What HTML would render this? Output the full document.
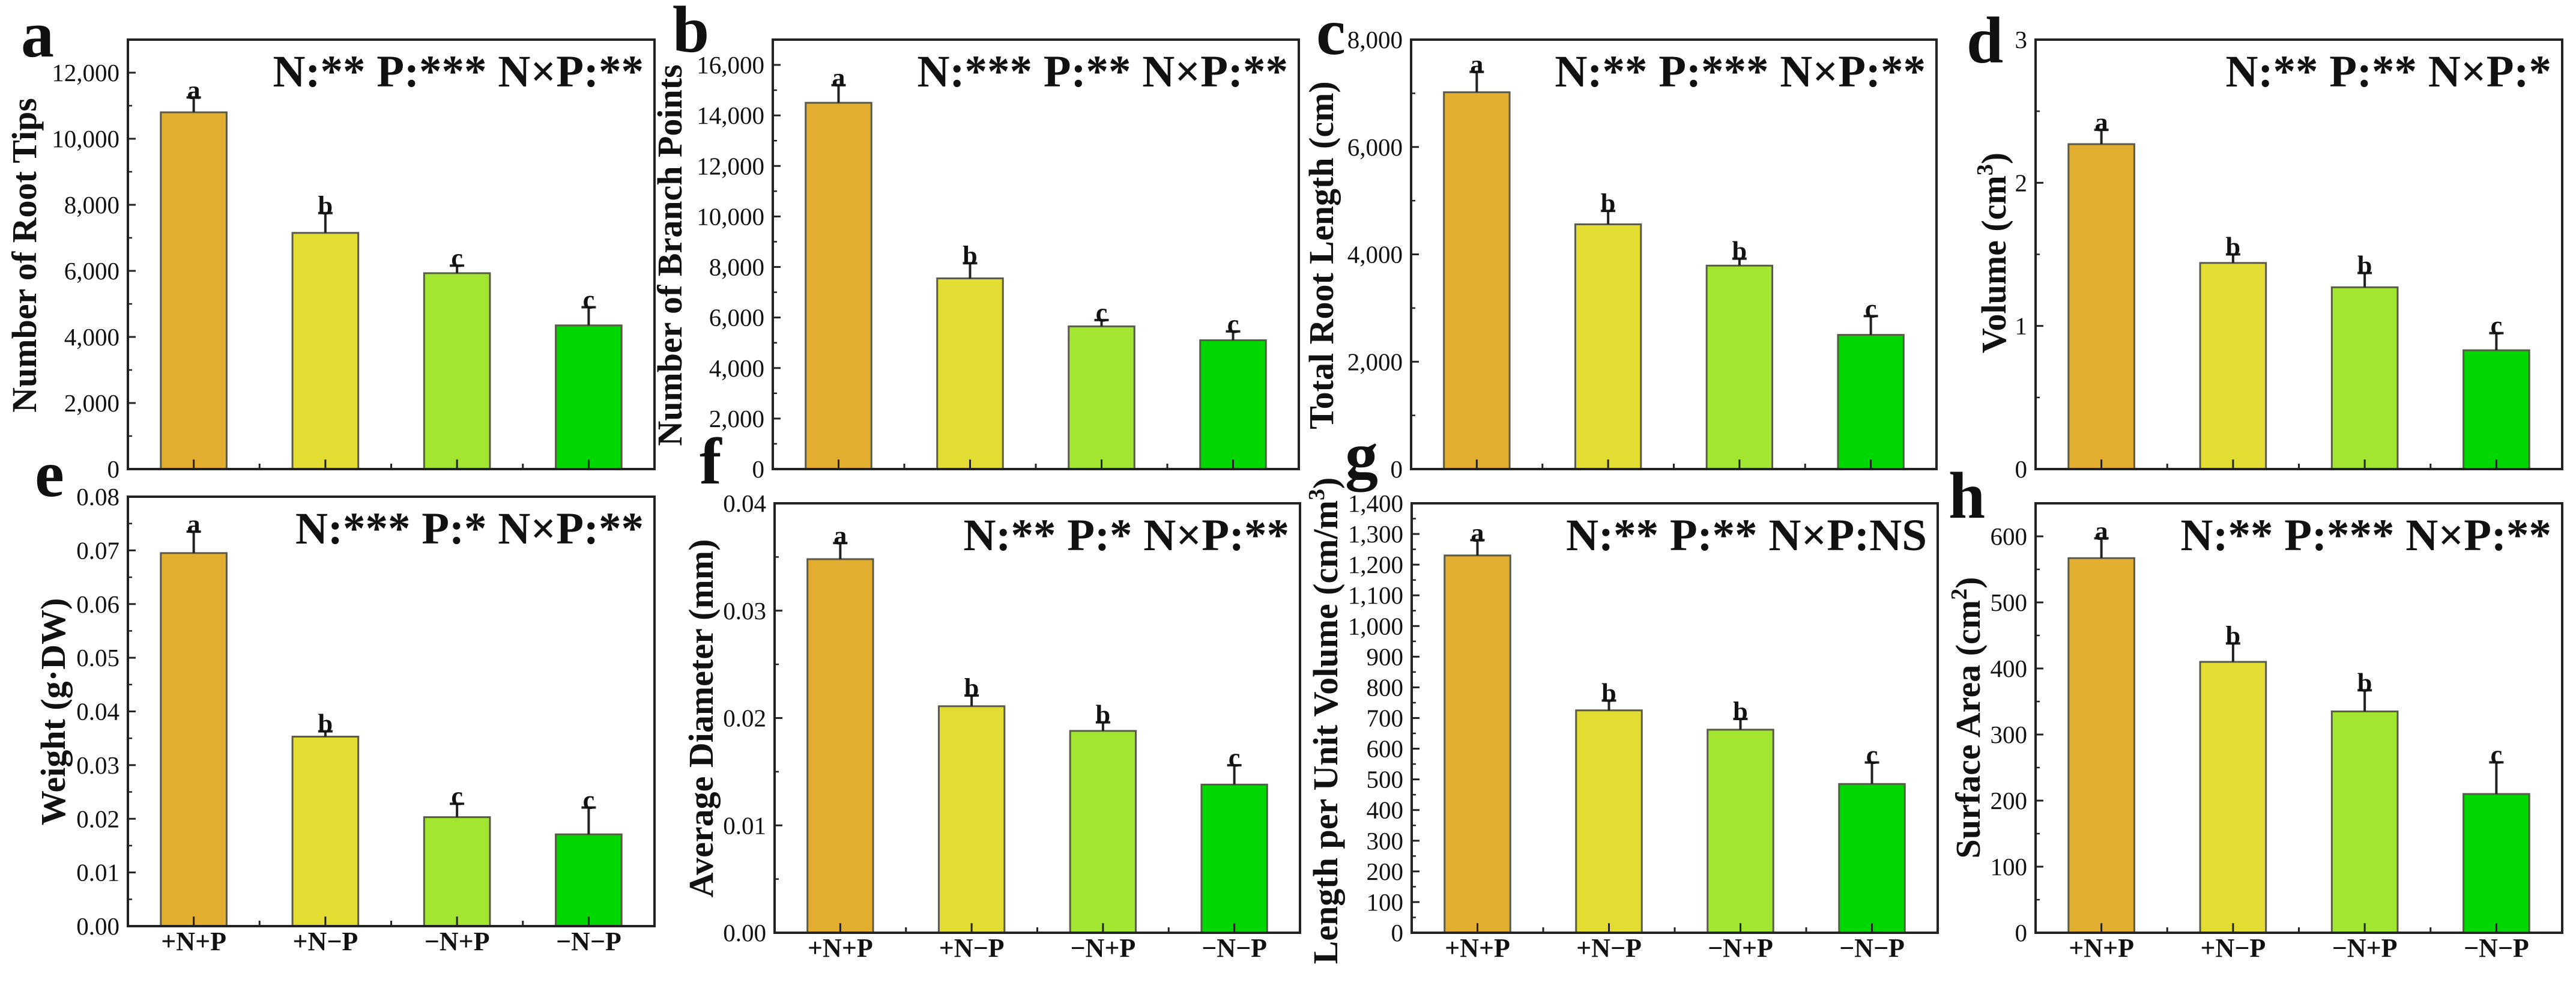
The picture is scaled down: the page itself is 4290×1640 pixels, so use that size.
<!DOCTYPE html>
<html><head><meta charset="utf-8"><style>
html,body{margin:0;padding:0;background:#fff;width:4290px;height:1640px;overflow:hidden}
svg{display:block}
text{font-family:"Liberation Serif","Times New Roman",serif;fill:#111}
</style></head><body>
<svg id="fig" width="4290" height="1640" viewBox="0 0 4290 1640" xmlns="http://www.w3.org/2000/svg"></svg>
<script>
const categories = ["+N+P", "+N\u2212P", "\u2212N+P", "\u2212N\u2212P"];
const barColors = ["#E3AE2F", "#E3DC33", "#A2E631", "#00D600"];

const aMeans = [10800, 7150, 5930, 4350];
const aErrs = [450, 600, 230, 550];
const aLetters = ["a", "b", "c", "c"];
const aTicks = [0, 2000, 4000, 6000, 8000, 10000, 12000];
const aTickLabels = ["0", "2,000", "4,000", "6,000", "8,000", "10,000", "12,000"];

const bMeans = [14500, 7550, 5650, 5100];
const bErrs = [700, 600, 250, 350];
const bLetters = ["a", "b", "c", "c"];
const bTicks = [0, 2000, 4000, 6000, 8000, 10000, 12000, 14000, 16000];
const bTickLabels = ["0", "2,000", "4,000", "6,000", "8,000", "10,000", "12,000", "14,000", "16,000"];

const cMeans = [7020, 4560, 3790, 2500];
const cErrs = [380, 250, 130, 350];
const cLetters = ["a", "b", "b", "c"];
const cTicks = [0, 2000, 4000, 6000, 8000];
const cTickLabels = ["0", "2,000", "4,000", "6,000", "8,000"];

const dMeans = [2.27, 1.44, 1.27, 0.83];
const dErrs = [0.1, 0.06, 0.1, 0.12];
const dLetters = ["a", "b", "b", "c"];
const dTicks = [0, 1, 2, 3];
const dTickLabels = ["0", "1", "2", "3"];

const eMeans = [0.0695, 0.0353, 0.0203, 0.0171];
const eErrs = [0.004, 0.001, 0.0025, 0.005];
const eLetters = ["a", "b", "c", "c"];
const eTicks = [0, 0.01, 0.02, 0.03, 0.04, 0.05, 0.06, 0.07, 0.08];
const eTickLabels = ["0.00", "0.01", "0.02", "0.03", "0.04", "0.05", "0.06", "0.07", "0.08"];

const fMeans = [0.0348, 0.0211, 0.0188, 0.0138];
const fErrs = [0.0015, 0.001, 0.0008, 0.0018];
const fLetters = ["a", "b", "b", "c"];
const fTicks = [0, 0.01, 0.02, 0.03, 0.04];
const fTickLabels = ["0.00", "0.01", "0.02", "0.03", "0.04"];

const gMeans = [1230, 725, 662, 485];
const gErrs = [50, 32, 35, 70];
const gLetters = ["a", "b", "b", "c"];
const gTicks = [0, 100, 200, 300, 400, 500, 600, 700, 800, 900, 1000, 1100, 1200, 1300, 1400];
const gTickLabels = ["0", "100", "200", "300", "400", "500", "600", "700", "800", "900", "1,000", "1,100", "1,200", "1,300", "1,400"];

const hMeans = [567, 410, 335, 210];
const hErrs = [30, 28, 32, 48];
const hLetters = ["a", "b", "b", "c"];
const hTicks = [0, 100, 200, 300, 400, 500, 600];
const hTickLabels = ["0", "100", "200", "300", "400", "500", "600"];

const NS = "http://www.w3.org/2000/svg";
const svg = document.getElementById("fig");
function mk(tag, attrs, parent) {
  const e = document.createElementNS(NS, tag);
  for (const k in attrs) e.setAttribute(k, attrs[k]);
  (parent || svg).appendChild(e);
  return e;
}

const panels = [
  {id:"a", means:aMeans, errs:aErrs, letters:aLetters, ticks:aTicks, labels:aTickLabels, max:13000, minor:1000,
   x0:213, x1:1090, y0:66, y1:781, title:"Number of Root Tips", tx:40, ty:425, stats:"N:** P:*** N\u00d7P:**", px:35, py:94, xl:false},
  {id:"b", means:bMeans, errs:bErrs, letters:bLetters, ticks:bTicks, labels:bTickLabels, max:17000, minor:1000,
   x0:1287, x1:2163, y0:66, y1:781, title:"Number of Branch Points", tx:1115, ty:425, stats:"N:*** P:** N\u00d7P:**", px:1120, py:86, xl:false},
  {id:"c", means:cMeans, errs:cErrs, letters:cLetters, ticks:cTicks, labels:cTickLabels, max:8000, minor:1000,
   x0:2350, x1:3225, y0:66, y1:781, title:"Total Root Length (cm)", tx:2200, ty:425, stats:"N:** P:*** N\u00d7P:**", px:2192, py:90, xl:false},
  {id:"d", means:dMeans, errs:dErrs, letters:dLetters, ticks:dTicks, labels:dTickLabels, max:3, minor:0.5,
   x0:3390, x1:4267, y0:66, y1:781, title:"Volume (cm|3|)", tx:3320, ty:421, stats:"N:** P:** N\u00d7P:*", px:3275, py:104, xl:false},
  {id:"e", means:eMeans, errs:eErrs, letters:eLetters, ticks:eTicks, labels:eTickLabels, max:0.08, minor:0.005,
   x0:213, x1:1090, y0:827, y1:1542, title:"Weight (g\u00b7DW)", tx:88, ty:1185, stats:"N:*** P:* N\u00d7P:**", px:58, py:826, xl:true},
  {id:"f", means:fMeans, errs:fErrs, letters:fLetters, ticks:fTicks, labels:fTickLabels, max:0.04, minor:0.005,
   x0:1290, x1:2165, y0:838, y1:1553, title:"Average Diameter (mm)", tx:1167, ty:1196, stats:"N:** P:* N\u00d7P:**", px:1165, py:805, xl:true},
  {id:"g", means:gMeans, errs:gErrs, letters:gLetters, ticks:gTicks, labels:gTickLabels, max:1400, minor:50,
   x0:2351, x1:3227, y0:838, y1:1553, title:"Length per Unit Volume (cm/m|3|)", tx:2207, ty:1200, stats:"N:** P:** N\u00d7P:NS", px:2240, py:795, xl:true},
  {id:"h", means:hMeans, errs:hErrs, letters:hLetters, ticks:hTicks, labels:hTickLabels, max:650, minor:50,
   x0:3390, x1:4267, y0:838, y1:1553, title:"Surface Area (cm|2|)", tx:3277, ty:1195, stats:"N:** P:*** N\u00d7P:**", px:3245, py:862, xl:true}
];

panels.forEach(p => {
  const g = mk("g", {});
  
  
  const yS = v => p.y1 - (v / p.max) * (p.y1 - p.y0);
  const band = (p.x1 - p.x0) / 4;
  const xS = i => p.x0 + band * (i + 0.5);
  const bw = band * 0.5;

  p.means.forEach((m, i) => {
    const r = mk("rect", {x: xS(i) - bw / 2, y: yS(m), width: bw, height: p.y1 - yS(m),
      fill: barColors[i], stroke: "#5a5a4a", "stroke-width": 3}, g);
    
    
    const top = yS(m + p.errs[i]);
    const eb = mk("path", {d: `M${xS(i)},${yS(m)} V${top} M${xS(i) - 12},${top} H${xS(i) + 12}`,
      stroke: "#222", "stroke-width": 4, fill: "none"}, g);
    
    
    const lt = mk("text", {x: xS(i), y: top + 2, "text-anchor": "middle", "font-size": 44, "font-weight": "bold"}, g);
    lt.textContent = p.letters[i];
    
    
    mk("line", {x1: xS(i), x2: xS(i), y1: p.y1, y2: p.y1 - 16, stroke: "#222", "stroke-width": 3}, g);
    if (i < 3) mk("line", {x1: p.x0 + band * (i + 1), x2: p.x0 + band * (i + 1), y1: p.y1, y2: p.y1 - 9, stroke: "#222", "stroke-width": 3}, g);
    if (p.xl) {
      const xt = mk("text", {x: xS(i), y: p.y1 + 40, "text-anchor": "middle", "font-size": 44, "font-weight": "bold"}, g);
      xt.textContent = categories[i];
      
      
    }
  });

  for (let v = 0; v <= p.max + 1e-9; v += p.minor) {
    mk("line", {x1: p.x0, x2: p.x0 + 7, y1: yS(v), y2: yS(v), stroke: "#222", "stroke-width": 2.5}, g);
  }
  p.ticks.forEach((t, k) => {
    mk("line", {x1: p.x0, x2: p.x0 + 13, y1: yS(t), y2: yS(t), stroke: "#222", "stroke-width": 3}, g);
    const tl = mk("text", {x: p.x0 - 14, y: yS(t) + 14, "text-anchor": "end", "font-size": 41}, g);
    tl.textContent = p.labels[k];
    
    
  });

  const fr = mk("rect", {x: p.x0, y: p.y0, width: p.x1 - p.x0, height: p.y1 - p.y0, fill: "none", stroke: "#222", "stroke-width": 4}, g);
  
  

  const st = mk("text", {x: p.x1 - 18, y: p.y0 + 78, "text-anchor": "end", "font-size": 75, "font-weight": "bold"}, g);
  st.textContent = p.stats;
  
  

  const yt = mk("text", {x: 0, y: 0, "text-anchor": "middle", "font-size": 58, "font-weight": "bold",
    transform: `translate(${p.tx + 20},${p.ty}) rotate(-90)`}, g);
  const parts = p.title.split("|");
  const t1 = mk("tspan", {}, yt); t1.textContent = parts[0];
  if (parts.length > 1) {
    const t2 = mk("tspan", {dy: -22, "font-size": 38}, yt); t2.textContent = parts[1];
    const t3 = mk("tspan", {dy: 22}, yt); t3.textContent = parts[2];
  }
  
  

  const pl = mk("text", {x: p.px, y: p.py, "font-size": 110, "font-weight": "bold"}, g);
  pl.textContent = p.id;
  
  
});
</script>
</body></html>
